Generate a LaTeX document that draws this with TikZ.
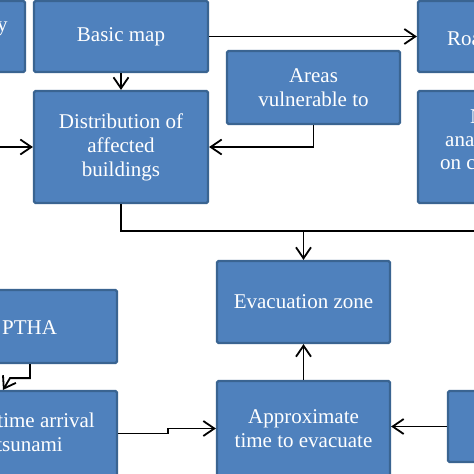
\documentclass[tikz,border=0pt]{standalone}
\usepackage{fontspec}
\setmainfont{Liberation Serif}
\usetikzlibrary{arrows.meta}
\definecolor{boxfill}{HTML}{4F81BD}
\definecolor{boxline}{HTML}{3A6491}
\begin{document}
\begin{tikzpicture}[x=1pt,y=-1pt,
  box/.style={draw=boxline, line width=2.2pt, fill=boxfill, rounded corners=1.5pt, inner sep=0pt, text=white, align=center, font=\fontsize{21}{24}\selectfont},
  lbl/.style={inner sep=0pt, text=white, font=\fontsize{21}{24}\selectfont},
  arr/.style={draw=black, line width=1.8pt, -{Straight Barb[length=11pt,width=15pt,line width=1.8pt]}},
  link/.style={draw=black, line width=1.8pt}]
\useasboundingbox (0,0) rectangle (474,474);
\fill[white] (0,0) rectangle (474,474);
% boxes
\node[box, minimum width=55pt, minimum height=71pt] (tl) at (-2.5,36.5) {};
\node[box, minimum width=174pt, minimum height=71pt] (basic) at (121,36.5) {Basic map};
\node[box, minimum width=92pt, minimum height=71pt] (road) at (464,36.5) {};
\node[box, minimum width=173pt, minimum height=73pt] (areas) at (313.5,87.5) {Areas\\vulnerable to};
\node[box, minimum width=174pt, minimum height=112pt] (dist) at (121,147) {Distribution of\\affected\\buildings};
\node[box, minimum width=92pt, minimum height=112pt] (nbox) at (464,147) {};
\node[box, minimum width=173pt, minimum height=82pt] (evac) at (303.5,302) {Evacuation zone};
\node[box, minimum width=197pt, minimum height=73pt] (ptha) at (18.5,326.5) {};
\node[box, minimum width=197pt, minimum height=85pt] (tarr) at (18.5,433.5) {};
\node[box, minimum width=173pt, minimum height=95pt] (approx) at (303.5,428.5) {Approximate\\time to evacuate};
\node[box, minimum width=82pt, minimum height=71pt] (rb) at (489,426.5) {};
% partly visible texts
\node[lbl, anchor=base west] (tly) at (-3,31) {y};
\node[lbl, anchor=base west] (roadt) at (447,45) {Roa};
\node[lbl, anchor=base west] (nt1) at (470,123) {N};
\node[lbl, anchor=base west] (nt2) at (445,146) {ana};
\node[lbl, anchor=base west] (nt3) at (440,169) {on c};
\node[lbl, anchor=west] (pthat) at (2,328) {PTHA};
\node[lbl, anchor=base east] (ta1) at (95,427) {time arrival};
\node[lbl, anchor=base east] (ta2) at (63,451) {tsunami};
% connectors
\coordinate (lin) at (-5,147);
\coordinate (rin) at (480,231);
\coordinate (jn) at (303.5,231);
\coordinate (pa) at (30,0);
\coordinate (pb) at (3,0);
\draw[arr] (basic.east) -- (road.west);
\draw[arr] (basic.south) -- (dist.north);
\draw[arr] (lin) -- (dist.west);
\draw[arr] (areas.south) |- (dist.east);
\draw[link] (dist.south) |- (rin);
\draw[arr] (jn) -- (evac.north);
\draw[arr] (approx.north) -- (evac.south);
\draw[arr] (ptha.south -| pa) -- ++(0,14) -- ++(-20,0) -- (tarr.north -| pb);
\draw[arr] (tarr.east) -- ++(50,0) |- (approx.west);
\draw[arr] (rb.west) -- (approx.east |- rb.west);
\end{tikzpicture}
\end{document}
